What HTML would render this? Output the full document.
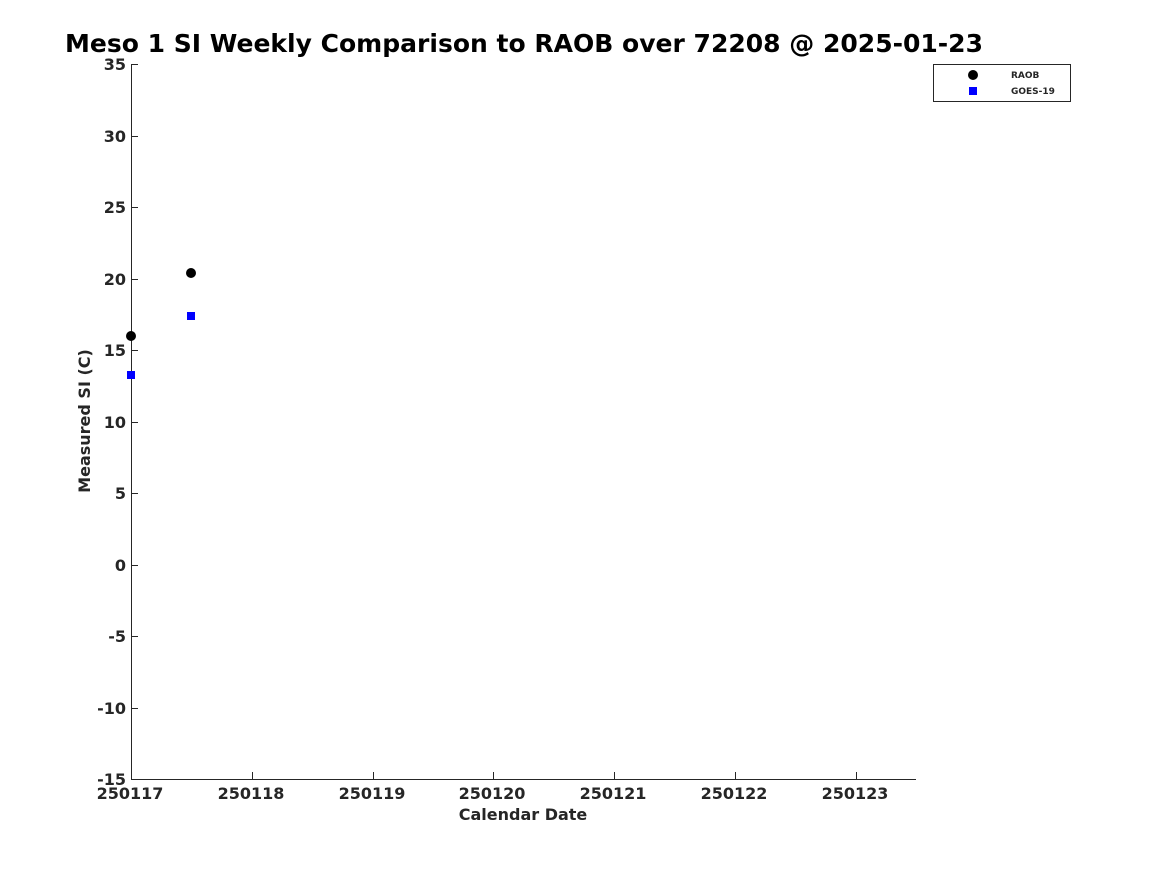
<!DOCTYPE html>
<html><head><style>body{margin:0;background:#fff}svg{display:block}text{font-family:"DejaVu Sans","Liberation Sans",sans-serif;font-weight:bold;fill:#262626}</style></head>
<body>
<svg width="1167" height="875" xmlns="http://www.w3.org/2000/svg">
<text x="65" y="52" font-size="25" textLength="918" lengthAdjust="spacingAndGlyphs" style="fill:#000">Meso 1 SI Weekly Comparison to RAOB over 72208 @ 2025-01-23</text>
<g stroke="#262626" stroke-width="1" fill="none">
<line x1="131.5" y1="64" x2="131.5" y2="779"/>
<line x1="131" y1="779.5" x2="916" y2="779.5"/>
<path d="M131 64.5h7M131 136.5h7M131 207.5h7M131 279.5h7M131 350.5h7M131 422.5h7M131 493.5h7M131 565.5h7M131 636.5h7M131 708.5h7M131 779.5h7"/>
<path d="M252.5 779v-7M373.5 779v-7M493.5 779v-7M614.5 779v-7M735.5 779v-7M856.5 779v-7"/>
</g>
<g font-size="16" text-anchor="end">
<text x="126" y="70">35</text><text x="126" y="142">30</text><text x="126" y="213">25</text><text x="126" y="285">20</text><text x="126" y="356">15</text><text x="126" y="428">10</text><text x="126" y="499">5</text><text x="126" y="571">0</text><text x="126" y="642">-5</text><text x="126" y="714">-10</text><text x="126" y="785">-15</text>
</g>
<g font-size="16" text-anchor="middle">
<text x="130" y="799">250117</text><text x="251" y="799">250118</text><text x="372" y="799">250119</text><text x="492" y="799">250120</text><text x="613" y="799">250121</text><text x="734" y="799">250122</text><text x="855" y="799">250123</text>
</g>
<text x="523" y="820" font-size="16" text-anchor="middle">Calendar Date</text>
<text transform="translate(90,421) rotate(-90)" font-size="16" text-anchor="middle">Measured SI (C)</text>
<circle cx="131" cy="336" r="5" fill="#000"/>
<circle cx="191" cy="273" r="5" fill="#000"/>
<rect x="127" y="371" width="8" height="8" fill="#0000ff"/>
<rect x="187" y="312" width="8" height="8" fill="#0000ff"/>
<rect x="933.5" y="64.5" width="137" height="37" fill="#fff" stroke="#262626"/>
<circle cx="973" cy="75" r="5" fill="#000"/>
<rect x="969" y="87" width="8" height="8" fill="#0000ff"/>
<text x="1011" y="78" font-size="9">RAOB</text>
<text x="1011" y="94" font-size="9">GOES-19</text>
</svg>
</body></html>
